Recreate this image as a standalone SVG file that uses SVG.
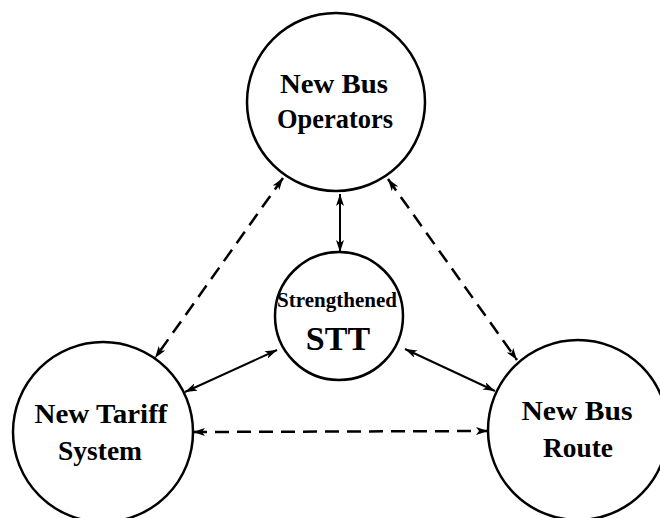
<svg xmlns="http://www.w3.org/2000/svg" width="660" height="518" viewBox="0 0 660 518">
<style>
.node circle{fill:#fff;stroke:#000;stroke-width:2.5}
.lbl{font-family:"Liberation Serif","Times New Roman",serif;font-weight:bold;fill:#000;text-anchor:middle}
.big{font-size:28px}
.c{stroke:#000;stroke-width:2;fill:none;marker-start:url(#ah);marker-end:url(#ah)}
.d{stroke-dasharray:14 8;stroke-width:2.5}
</style>
<defs>
<marker id="ah" viewBox="0 0 12 8" refX="12" refY="4" markerWidth="12" markerHeight="8" markerUnits="userSpaceOnUse" orient="auto-start-reverse">
<path d="M0,0 L12,4 L0,8 L3,4 Z" fill="#000"/>
</marker>
</defs>
<rect width="660" height="518" fill="#fff"/>
<g id="connectors">
<line class="c" x1="340" y1="194" x2="340" y2="252"/>
<line class="c d" x1="283" y1="178" x2="155" y2="358"/>
<line class="c d" x1="388" y1="179" x2="517" y2="360"/>
<line class="c" x1="277" y1="350" x2="185" y2="392"/>
<line class="c" x1="405" y1="349" x2="495" y2="391"/>
<line class="c d" x1="193" y1="432" x2="488" y2="431"/>
</g>
<g id="operators" class="node">
<circle cx="336" cy="102" r="89"/>
<text class="lbl big" x="334" y="93" textLength="108" lengthAdjust="spacingAndGlyphs">New Bus</text>
<text class="lbl big" x="335" y="128" textLength="116" lengthAdjust="spacingAndGlyphs">Operators</text>
</g>
<g id="stt" class="node">
<circle cx="339" cy="316" r="64"/>
<text class="lbl" x="337" y="307" font-size="20" textLength="120" lengthAdjust="spacingAndGlyphs">Strengthened</text>
<text class="lbl" x="338" y="350" font-size="34">STT</text>
</g>
<g id="tariff" class="node">
<circle cx="103" cy="432" r="90"/>
<text class="lbl big" x="101" y="423" textLength="133" lengthAdjust="spacingAndGlyphs">New Tariff</text>
<text class="lbl big" x="100" y="460" textLength="84" lengthAdjust="spacingAndGlyphs">System</text>
</g>
<g id="route" class="node">
<circle cx="578" cy="430" r="90"/>
<text class="lbl big" x="577" y="420" textLength="111" lengthAdjust="spacingAndGlyphs">New Bus</text>
<text class="lbl big" x="578" y="457" textLength="70" lengthAdjust="spacingAndGlyphs">Route</text>
</g>
</svg>
